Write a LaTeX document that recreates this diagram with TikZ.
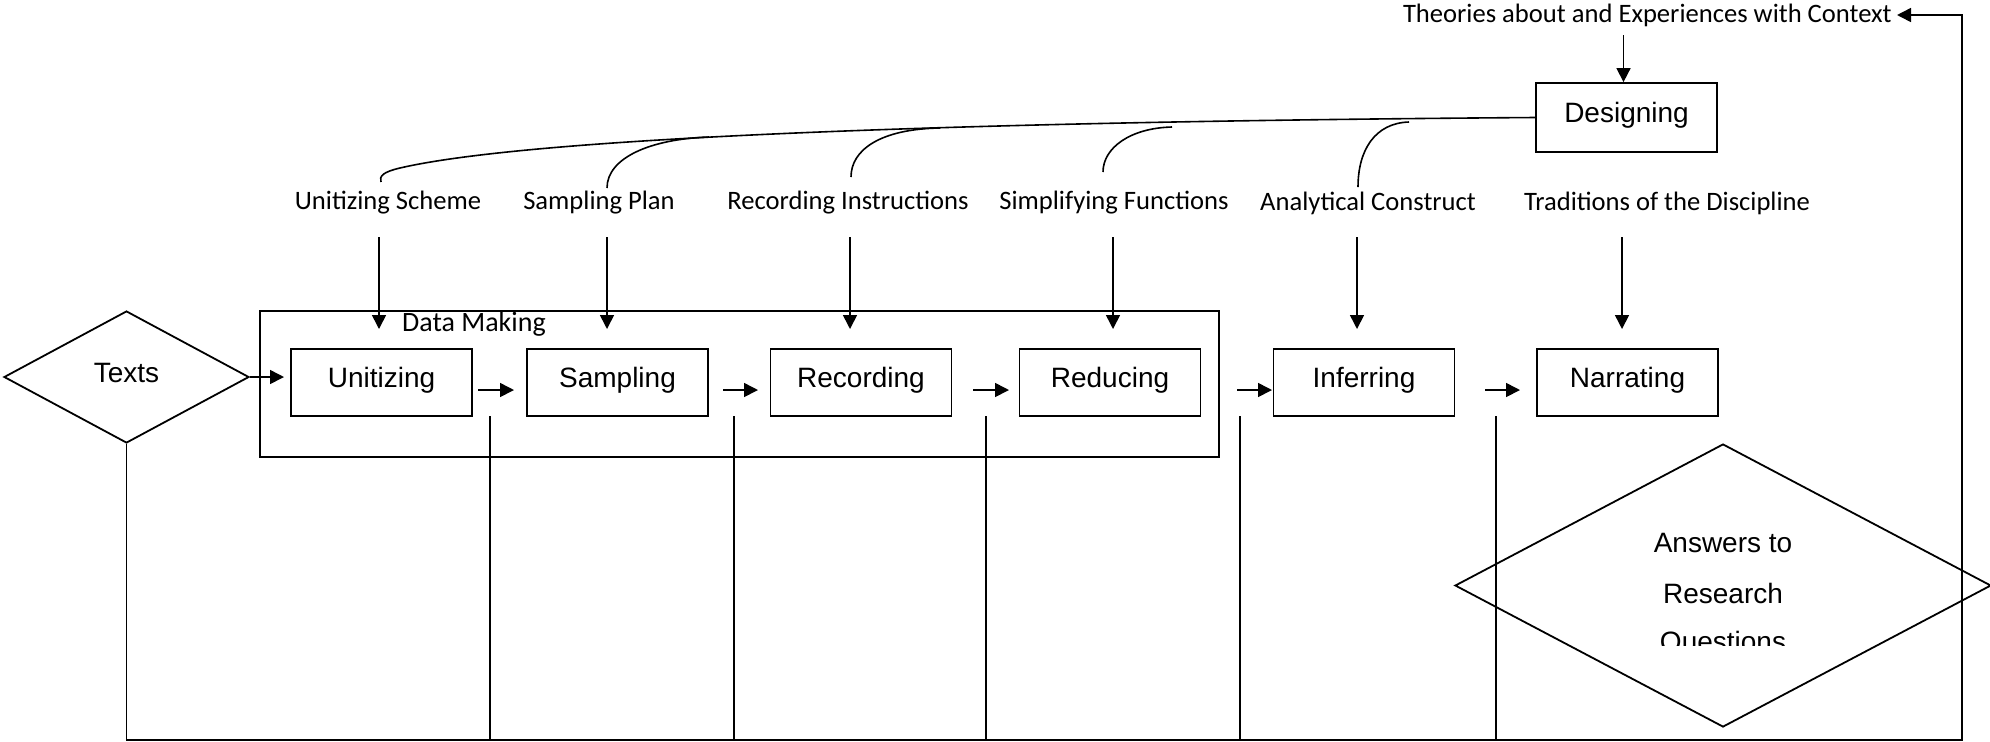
\documentclass[tikz,border=0pt]{standalone}
\usepackage{fontspec}
\setmainfont{Liberation Sans}
\newfontfamily\calib{Carlito}
\usetikzlibrary{arrows.meta,shapes.geometric,calc}
\begin{document}
\begin{tikzpicture}[x=0.5pt,y=-0.5pt,line width=0.8pt,
  stagebox/.style={draw,line width=0.9pt,minimum width=90.5pt,minimum height=33.5pt,inner sep=0pt,
    font=\fontsize{14}{16}\selectfont,text height=10pt,text depth=5pt},
  lbl/.style={font=\calib\fontsize{13.3}{15}\selectfont,inner sep=0pt},
  arr/.style={-{Triangle[length=7pt,width=7pt]}},
  arialtxt/.style={font=\fontsize{14}{16}\selectfont,inner sep=0pt}]
\useasboundingbox (0,0) rectangle (1990,741);

% Data making frame
\node[draw,line width=0.9pt,minimum width=479.5pt,minimum height=73pt,inner sep=0pt] (dm) at (739.5,384) {};
\node[font=\calib\fontsize{14}{16}\selectfont,inner sep=0pt] (dml) at (474,324) {Data Making};

% stage boxes
\node[stagebox] (unit) at (381.5,382.5) {Unitizing};
\node[stagebox] (samp) at (617.5,382.5) {Sampling};
\node[stagebox] (rec)  at (861,382.5) {Recording};
\node[stagebox] (red)  at (1110,382.5) {Reducing};
\node[stagebox] (inf)  at (1364,382.5) {Inferring};
\node[stagebox] (nar)  at (1627.5,382.5) {Narrating};
\node[stagebox,minimum height=34.5pt] (design) at (1626.5,117.5) {Designing};

% diamonds
\node[draw,diamond,line width=0.9pt,minimum width=122.5pt,minimum height=66pt,inner sep=0pt,
  font=\fontsize{14}{16}\selectfont,text height=10pt,text depth=5pt] (texts) at (126.5,377) {Texts};
\node[draw,diamond,line width=0.9pt,minimum width=268pt,minimum height=141.5pt,inner sep=0pt] (ans) at (1723,585.5) {};
\node[arialtxt] (ans1) at (1723,543) {Answers to};
\node[arialtxt] (ans2) at (1723,593) {Research};
\begin{scope}
  \clip (1550,600) rectangle (1900,645);
  \node[arialtxt] (ans3) at (1723,644) {Questions};
\end{scope}

% labels
\node[lbl] (us) at (388,203) {Unitizing Scheme};
\node[lbl] (sp) at (599,203) {Sampling Plan};
\node[lbl] (ri) at (848,203) {Recording Instructions};
\node[lbl] (sf) at (1114,203) {Simplifying Functions};
\node[lbl] (ac) at (1368,203) {Analytical Construct};
\node[lbl] (td) at (1667,203) {Traditions of the Discipline};
\node[lbl,anchor=east,inner xsep=2.25pt] (theo) at (1897,15) {Theories about and Experiences with Context};

% curved connectors from Designing
\draw (design.west) .. controls (900,122) and (520,140) .. (400,168)
      .. controls (383,172) and (379,176) .. (381,182);
\draw (709,137) .. controls (650,139) and (607,158) .. (607,188);
\draw (940,128) .. controls (880,129) and (851,150) .. (851,177);
\draw (1172,127) .. controls (1130,128) and (1103,148) .. (1103,172);
\draw (1409,122) .. controls (1375,123) and (1358,150) .. (1358,187);

% down arrows from labels
\foreach \x in {379,607,850,1113,1357,1622}
  \draw[arr] (\x,237) -- (\x,329);
\draw[arr] ($(design.north)+(-3,-47)$) -- ($(design.north)+(-3,0)$);

% small horizontal arrows
\draw[arr] (texts.east) -- (284,377);
\foreach \a/\b in {478/514,723/758,973/1009,1237/1272,1485/1520}
  \draw[arr] (\a,390) -- (\b,390);

% feedback lines
\draw[arr] (texts.south) |- (1962,740) |- (theo.east);
\foreach \x in {490,734,986,1240,1496}
  \draw (\x,416) -- (\x,740);
\end{tikzpicture}
\end{document}
